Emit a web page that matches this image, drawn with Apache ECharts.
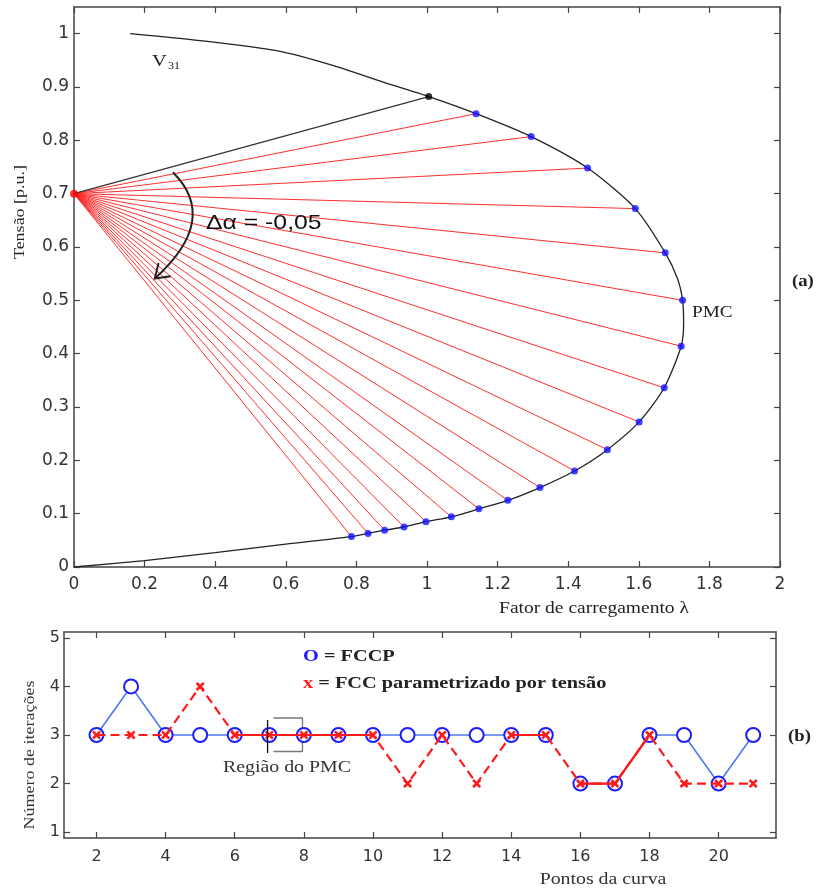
<!DOCTYPE html>
<html>
<head>
<meta charset="utf-8">
<script src="https://cdn.jsdelivr.net/npm/echarts@6/dist/echarts.min.js"></script>
<style>
  html, body { margin: 0; padding: 0; background: #fff; }
  #chart { width: 819px; height: 890px; }
</style>
</head>
<body>
<div id="chart"></div>
<script>
// (a) curva PV
var curveLambda = [0.159, 0.357, 0.574, 0.735, 0.876, 1.005, 1.139, 1.295, 1.455, 1.590, 1.675, 1.710, 1.724, 1.727, 1.720,
                   1.672, 1.601, 1.511, 1.418, 1.320, 1.229, 1.147, 1.069, 0.997, 0.935, 0.880, 0.833, 0.786, 0.600, 0.400, 0.200, 0];
var curveV = [1.000, 0.987, 0.968, 0.940, 0.909, 0.882, 0.850, 0.807, 0.748, 0.672, 0.589, 0.540, 0.500, 0.457, 0.414,
              0.336, 0.272, 0.220, 0.180, 0.149, 0.125, 0.109, 0.094, 0.085, 0.075, 0.069, 0.063, 0.057, 0.043, 0.027, 0.012, 0];
var pointLambda = [1.139, 1.295, 1.455, 1.590, 1.675, 1.724, 1.720, 1.672, 1.601, 1.511, 1.418, 1.320, 1.229, 1.147, 1.069, 0.997, 0.935, 0.880, 0.833, 0.786];
var pointV = [0.850, 0.807, 0.748, 0.672, 0.589, 0.500, 0.414, 0.336, 0.272, 0.220, 0.180, 0.149, 0.125, 0.109, 0.094, 0.085, 0.075, 0.069, 0.063, 0.057];
var pivot = [0, 0.7];
var firstPoint = [1.005, 0.882];
var ticksLambda = [0, 0.2, 0.4, 0.6, 0.8, 1, 1.2, 1.4, 1.6, 1.8, 2];
var ticksV = [0, 0.1, 0.2, 0.3, 0.4, 0.5, 0.6, 0.7, 0.8, 0.9, 1];
var arrowStart = [0.28, 0.74], arrowCtrl = [0.414, 0.652], arrowEnd = [0.229, 0.541];

// (b) numero de iteracoes
var pontos = [2, 3, 4, 5, 6, 7, 8, 9, 10, 11, 12, 13, 14, 15, 16, 17, 18, 19, 20, 21];
var iterFCCP = [3, 4, 3, 3, 3, 3, 3, 3, 3, 3, 3, 3, 3, 3, 2, 2, 3, 3, 2, 3];
var iterTensao = [3, 3, 3, 4, 3, 3, 3, 3, 3, 2, 3, 2, 3, 3, 2, 2, 3, 2, 2, 2];
var fccpParts = [[2, 15], [16, 21]];
var tensaoSolidParts = [[6, 10], [14, 15], [16, 18]];
var ticksPontos = [2, 4, 6, 8, 10, 12, 14, 16, 18, 20];
var ticksIter = [1, 2, 3, 4, 5];
var pmcLine = [[6.95, 3.31], [6.95, 2.63]];
var pmcBox = [[7.12, 3.35], [7.96, 3.35], [7.96, 2.66], [7.12, 2.66]];

var AX = '#444';
var crossPath = 'path://M0,2L2,0L5,3L8,0L10,2L7,5L10,8L8,10L5,7L2,10L0,8L3,5Z';

function axis(grid, pos, min, max, ticks, showLabel, margin, fs) {
  return {
    type: 'value', gridIndex: grid, position: pos, min: min, max: max,
    axisLine: { show: true, onZero: false, lineStyle: { color: AX, width: 1.5 } },
    axisTick: { show: true, inside: true, length: 6, customValues: ticks, lineStyle: { color: AX, width: 1.2 } },
    axisLabel: { show: showLabel, customValues: ticks, margin: margin, fontFamily: 'DejaVu Sans', fontSize: fs, color: '#333',
                 formatter: function (v) { return String(+v.toFixed(2)); } },
    splitLine: { show: false }
  };
}

function pairs(xs, ys) {
  return xs.map(function (x, i) { return [x, ys[i]]; });
}
function slice(lo, hi, ys) {
  var out = [];
  pontos.forEach(function (p, i) { if (p >= lo && p <= hi) out.push([p, ys[i]]); });
  return out;
}

var rays = pointLambda.map(function (x, i) { return { coords: [pivot, [x, pointV[i]]] }; });

var series = [
  { type: 'lines', coordinateSystem: 'cartesian2d', xAxisIndex: 0, yAxisIndex: 0, data: rays,
    lineStyle: { color: '#ff2424', width: 1, opacity: 0.95 }, z: 2 },
  { type: 'line', xAxisIndex: 0, yAxisIndex: 0, data: pairs(curveLambda, curveV), showSymbol: false, smooth: 0.25,
    lineStyle: { color: '#222', width: 1.3 }, z: 3 },
  { type: 'line', xAxisIndex: 0, yAxisIndex: 0, data: [pivot, firstPoint], showSymbol: false,
    lineStyle: { color: '#333', width: 1.2 }, z: 3 },
  { type: 'scatter', xAxisIndex: 0, yAxisIndex: 0, data: pairs(pointLambda, pointV), symbolSize: 7,
    itemStyle: { color: '#1212ff' }, z: 5 },
  { type: 'scatter', xAxisIndex: 0, yAxisIndex: 0, data: [firstPoint], symbolSize: 7, itemStyle: { color: '#000' }, z: 5 },
  { type: 'scatter', xAxisIndex: 0, yAxisIndex: 0, data: [pivot], symbolSize: 8, itemStyle: { color: '#ff0000' }, z: 5 }
];

fccpParts.forEach(function (r) {
  series.push({ type: 'line', xAxisIndex: 2, yAxisIndex: 2, data: slice(r[0], r[1], iterFCCP),
    symbol: 'emptyCircle', symbolSize: 14, showAllSymbol: true,
    itemStyle: { color: '#1c1cff', borderWidth: 3 },
    lineStyle: { color: 'rgba(60,105,240,0.9)', width: 1.6 }, z: 3 });
});
series.push({ type: 'line', xAxisIndex: 2, yAxisIndex: 2, data: pairs(pontos, iterTensao),
  symbol: crossPath, symbolSize: 9, showAllSymbol: true, itemStyle: { color: '#ff1a1a' },
  lineStyle: { color: '#ff1a1a', width: 2.2, type: [9, 5] }, z: 4 });
tensaoSolidParts.forEach(function (r) {
  series.push({ type: 'line', xAxisIndex: 2, yAxisIndex: 2, data: slice(r[0], r[1], iterTensao),
    showSymbol: false, lineStyle: { color: '#ff1a1a', width: 2.2 }, z: 4 });
});
series.push({ type: 'line', xAxisIndex: 2, yAxisIndex: 2, data: pmcLine, showSymbol: false,
  lineStyle: { color: '#111', width: 1.3 }, z: 6 });
series.push({ type: 'line', xAxisIndex: 2, yAxisIndex: 2, data: pmcBox, showSymbol: false,
  lineStyle: { color: '#777', width: 1.3 }, z: 2 });

var option = {
  animation: false,
  backgroundColor: '#fff',
  grid: [
    { left: 74, top: 7, width: 706, height: 560 },
    { left: 64, top: 632, width: 712, height: 206 }
  ],
  xAxis: [
    axis(0, 'bottom', 0, 2, ticksLambda, true, 9, 17),
    axis(0, 'top', 0, 2, ticksLambda, false, 8, 17),
    axis(1, 'bottom', 1.06, 21.66, ticksPontos, true, 11, 16),
    axis(1, 'top', 1.06, 21.66, ticksPontos, false, 8, 16)
  ],
  yAxis: [
    axis(0, 'left', 0, 1.05, ticksV, true, 5, 17),
    axis(0, 'right', 0, 1.05, ticksV, false, 8, 17),
    axis(1, 'left', 0.88, 5.12, ticksIter, true, 4, 16),
    axis(1, 'right', 0.88, 5.12, ticksIter, false, 8, 16)
  ],
  series: series
};

var chart = echarts.init(document.getElementById('chart'));
chart.setOption(option);

function px(pt) { return chart.convertToPixel({ xAxisIndex: 0, yAxisIndex: 0 }, pt); }
var s = px(arrowStart), c = px(arrowCtrl), e = px(arrowEnd);
var dx = c[0] - e[0], dy = c[1] - e[1];
var ang = Math.atan2(dy, dx), wing = 16, spread = 0.6;
var w1 = [e[0] + wing * Math.cos(ang + spread), e[1] + wing * Math.sin(ang + spread)];
var w2 = [e[0] + wing * Math.cos(ang - spread), e[1] + wing * Math.sin(ang - spread)];

var serif = 'Liberation Serif';
function txt(x, y, text, size, opts) {
  opts = opts || {};
  return {
    type: 'text', x: x, y: y, rotation: opts.rot || 0, scaleX: opts.sx || 1.2, z: 20,
    style: {
      text: text, fontFamily: opts.font || serif, fontSize: size, fontWeight: opts.bold ? 'bold' : 'normal',
      fill: opts.color || '#222', align: opts.align || 'left', verticalAlign: 'middle', rich: opts.rich
    }
  };
}

chart.setOption({
  graphic: [
    { type: 'bezierCurve', z: 20, shape: { x1: s[0], y1: s[1], cpx1: c[0], cpy1: c[1], x2: e[0], y2: e[1] },
      style: { stroke: '#222', lineWidth: 2, fill: null } },
    { type: 'polyline', z: 20, shape: { points: [w1, e, w2] }, style: { stroke: '#222', lineWidth: 2, fill: null } },
    txt(152, 62, '{v|V}{s|31}', 17, { rich: { v: { fontSize: 17, fontFamily: serif, fill: '#222' },
                                            s: { fontSize: 10, fontFamily: serif, fill: '#222', verticalAlign: 'bottom', padding: [8, 0, 0, 1] } } }),
    txt(206, 223, 'Δα = -0,05', 21, { font: 'Liberation Sans', sx: 1.18, color: '#111' }),
    txt(692, 313, 'PMC', 16),
    txt(792, 282, '(a)', 17, { bold: true, sx: 1.1 }),
    txt(20, 212, 'Tensão [p.u.]', 15, { rot: Math.PI / 2, align: 'center' }),
    txt(594, 609, 'Fator de carregamento λ', 16, { align: 'center', sx: 1.22 }),
    txt(303, 657, '{o|O}{t| = FCCP}', 16, { bold: true, sx: 1.27, rich: {
      o: { fill: '#1c1cff', fontSize: 16, fontWeight: 'bold', fontFamily: serif },
      t: { fill: '#222', fontSize: 16, fontWeight: 'bold', fontFamily: serif } } }),
    txt(303, 684, '{o|x}{t| = FCC parametrizado por tensão}', 16, { bold: true, sx: 1.27, rich: {
      o: { fill: '#ff1a1a', fontSize: 16, fontWeight: 'bold', fontFamily: serif },
      t: { fill: '#222', fontSize: 16, fontWeight: 'bold', fontFamily: serif } } }),
    txt(223, 768, 'Região do PMC', 16, { color: '#333', sx: 1.24 }),
    txt(788, 737, '(b)', 17, { bold: true, sx: 1.1 }),
    txt(30, 755, 'Número de iterações', 15, { rot: Math.PI / 2, align: 'center', color: '#333' }),
    txt(603, 880, 'Pontos da curva', 16, { align: 'center', color: '#333', sx: 1.24 })
  ]
});
</script>
</body>
</html>
